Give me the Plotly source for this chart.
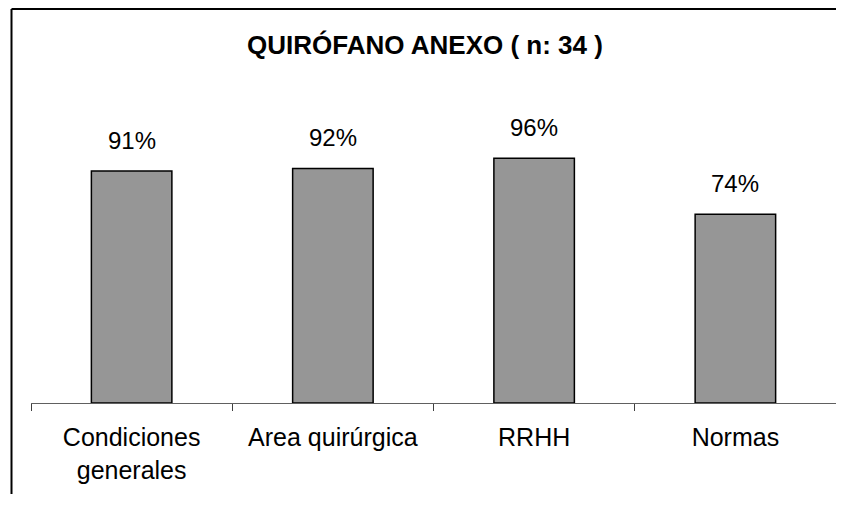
import plotly.graph_objects as go

categories = ["Condiciones<br>generales", "Area quirúrgica", "RRHH", "Normas"]
values = [91, 92, 96, 74]
value_labels = ["91%", "92%", "96%", "74%"]
title_text = "QUIRÓFANO ANEXO ( n: 34 )"

OFF = 8  # page body margin
W, H = 844 - 2 * OFF, 506 - 2 * OFF - 4
L, R, T = 31 - OFF, 0, 97 - OFF
B = (H + OFF) - 403
plot_w = W - L - R
plot_h = H - T - B
FONT = "Liberation Sans, Arial"

fig = go.Figure()
fig.add_trace(go.Bar(
    x=categories, y=values,
    marker=dict(color="#969696", line=dict(color="#000000", width=1.5)),
    width=0.4,
    hoverinfo="skip",
))

for c, v, t in zip(categories, values, value_labels):
    fig.add_annotation(x=c, y=v, text=t, showarrow=False, yanchor="bottom",
                       yshift=15, font=dict(family=FONT, size=24, color="#000"))

def px_x(px):
    return (px - OFF - L) / plot_w

def px_y(py):
    return (H - B - (py - OFF)) / plot_h

# frame: left edge and top edge only (the rest is cropped in the original)
fig.add_shape(type="line", xref="paper", yref="paper",
              x0=px_x(11.5), y0=px_y(9), x1=px_x(11.5), y1=px_y(510),
              line=dict(color="#000000", width=2))
fig.add_shape(type="line", xref="paper", yref="paper",
              x0=px_x(11.5), y0=px_y(9), x1=px_x(844), y1=px_y(9),
              line=dict(color="#000000", width=2))

fig.update_layout(
    width=W, height=H,
    margin=dict(l=L, r=R, t=T, b=B),
    paper_bgcolor="white", plot_bgcolor="white",
    showlegend=False,
    title=dict(text="<b>" + title_text + "</b>", x=(425 - OFF) / W, xanchor="center",
               y=1 - (45 - OFF) / H, yanchor="middle",
               font=dict(family=FONT, size=26, color="#000")),
    font=dict(family=FONT, size=25, color="#000"),
)
fig.update_xaxes(
    type="category", tickson="boundaries", ticks="outside", ticklen=7,
    tickcolor="#404040", tickwidth=1, showline=True, linecolor="#606060", linewidth=1,
    tickfont=dict(family=FONT, size=25, color="#000"),
    ticklabelstandoff=12,
    showgrid=False,
)
fig.update_yaxes(range=[0, 120], visible=False, showgrid=False, zeroline=False)

fig.write_html("out.html")
